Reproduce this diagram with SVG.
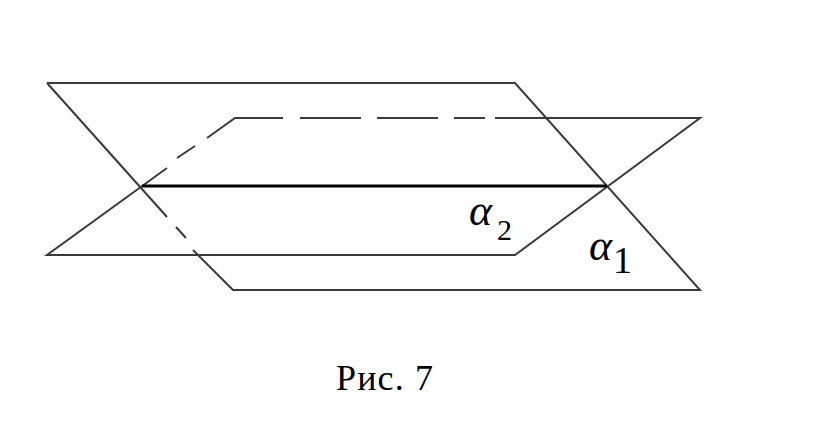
<svg xmlns="http://www.w3.org/2000/svg" width="823" height="424" viewBox="0 0 823 424">
<style>
.e{stroke:#3a3a3a;stroke-width:2;fill:none;stroke-linecap:butt}
.h{stroke:#000;stroke-width:3;fill:none}
.lab{font-family:"Liberation Serif",serif;font-style:italic;fill:#000}
.sub{font-family:"Liberation Serif",serif;fill:#000}
.cap{font-family:"Liberation Serif",serif;fill:#000}
</style>
<rect width="823" height="424" fill="#fff"/>
<g id="plane-alpha1">
<polyline class="e" points="47,83 515,83 700,290 233,290 193,250"/>
<line class="e" x1="47" y1="83" x2="167" y2="217"/>
<line class="e" x1="176" y1="227" x2="186" y2="238"/>
</g>
<g id="plane-alpha2">
<polyline class="e" points="167,168 47,255 515,255 700,118 495,118"/>
<line class="e" x1="177" y1="158" x2="195" y2="146"/>
<polyline class="e" points="207,138 235,118 283,118"/>
<line class="e" x1="300" y1="118" x2="361" y2="118"/>
<line class="e" x1="377" y1="118" x2="438" y2="118"/>
<line class="e" x1="454" y1="118" x2="485" y2="118"/>
</g>
<g id="connectors">
<line class="h" x1="142" y1="186" x2="607" y2="186"/>
</g>
<g id="label-alpha2">
<text class="lab" x="469" y="225" font-size="44">α</text>
<text class="sub" x="497" y="240" font-size="30">2</text>
</g>
<g id="label-alpha1">
<text class="lab" x="589" y="260" font-size="44">α</text>
<text class="sub" x="613" y="273" font-size="38">1</text>
</g>
<g id="caption">
<text class="cap" x="336" y="390" font-size="36" textLength="97" lengthAdjust="spacing">Рис. 7</text>
</g>
</svg>
